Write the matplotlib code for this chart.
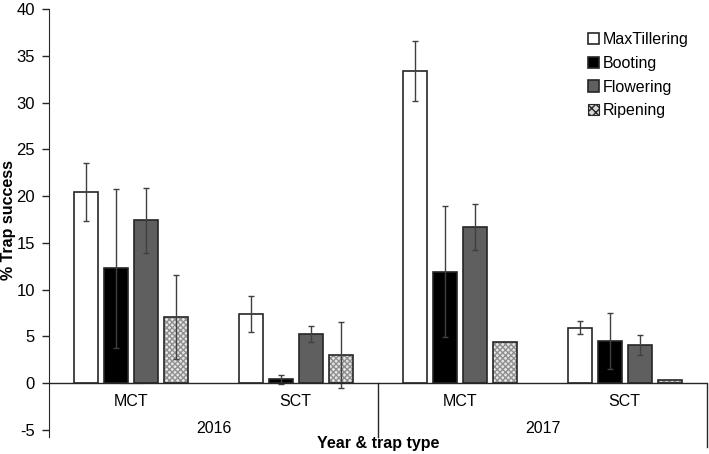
import matplotlib
matplotlib.use("Agg")
import matplotlib.pyplot as plt
import numpy as np

categories = ["MCT", "SCT", "MCT", "SCT"]
years = ["2016", "2017"]
series = ["MaxTillering", "Booting", "Flowering", "Ripening"]
max_tillering = [20.4, 7.4, 33.4, 5.9]
booting = [12.3, 0.4, 11.9, 4.45]
flowering = [17.4, 5.2, 16.7, 4.1]
ripening = [7.1, 3.0, 4.4, 0.35]
err_max_tillering = [3.1, 1.9, 3.2, 0.7]
err_booting = [8.5, 0.5, 7.0, 3.0]
err_flowering = [3.5, 0.85, 2.5, 1.05]
err_ripening = [4.5, 3.5, 0.0, 0.0]

values = [max_tillering, booting, flowering, ripening]
errors = [err_max_tillering, err_booting, err_flowering, err_ripening]
faces = ["white", "black", "#5f5f5f", "#d0d0d0"]

plt.rcParams['font.family'] = ['Liberation Sans', 'DejaVu Sans']
plt.rcParams['axes.unicode_minus'] = False

fig = plt.figure(figsize=(7.09, 4.54), dpi=100)
ax = fig.add_axes([49/709, (454-437)/454, (707-49)/709, 428/454])

x = np.arange(len(categories))
width = 0.146
step = 0.183
edge = "#262626"
for i, (name, vals, errs, fc) in enumerate(zip(series, values, errors, faces)):
    pos = x + (i - 1.5) * step
    if name == "Ripening":
        ax.bar(pos, vals, width, color="#e6e6e6", hatch="xxxxxx", edgecolor="#8f8f8f",
               linewidth=0, zorder=2)
        ax.bar(pos, vals, width, fill=False, edgecolor=edge, linewidth=1.2, zorder=3)
        ax.bar([0], [0], width, facecolor="#d8d8d8", hatch="xxxx", edgecolor=edge,
               linewidth=0.8, label=name)
    else:
        ax.bar(pos, vals, width, color=fc, edgecolor=edge, linewidth=1.2, zorder=3, label=name)
    e = np.array(errs)
    m = e > 0
    ax.errorbar(pos[m], np.array(vals)[m], yerr=e[m], fmt="none", ecolor="#404040",
                elinewidth=1.0, capsize=2.5, capthick=1.0, zorder=4)

ax.set_xlim(-0.5, 3.5)
ax.set_ylim(-5.77, 40)
ax.set_yticks(np.arange(-5, 41, 5))
ax.tick_params(axis="y", direction="out", length=5, width=1, labelsize=12, pad=5, color="#262626")
ax.tick_params(axis="x", length=0)
ax.set_xticks([])
for s in ["top", "right", "bottom"]:
    ax.spines[s].set_visible(False)
ax.spines["left"].set_color("#262626")
ax.axhline(0, color="#262626", linewidth=1.0, zorder=5)

# category labels and separators
for xi, c in zip(x, categories):
    ax.text(xi, -1.95, c, ha="center", va="center", fontsize=11.5)
for yi, yr in enumerate(years):
    ax.text(2 * yi + 0.5, -4.85, yr, ha="center", va="center", fontsize=11.5)
ax.plot([1.5, 1.5], [0, -5.77], color="#262626", linewidth=1.0, clip_on=False)
ax.plot([3.5, 3.5], [0, -6.85], color="#262626", linewidth=1.0, clip_on=False)

ax.text(1.5, -6.5, "Year & trap type", ha="center", va="center", fontsize=11.5, fontweight="bold")
fig.text(8.5/709, (454-220)/454, "% Trap success", rotation=90, ha="center", va="center",
         fontsize=11.5, fontweight="bold")

leg = ax.legend(loc="upper left", bbox_to_anchor=((588-49)/658, (437-32)/428), frameon=False,
                fontsize=11.5, handlelength=0.7, handleheight=0.7, handletextpad=0.2,
                labelspacing=0.55, borderaxespad=0, borderpad=0)

fig.savefig("out.png", dpi=100)
